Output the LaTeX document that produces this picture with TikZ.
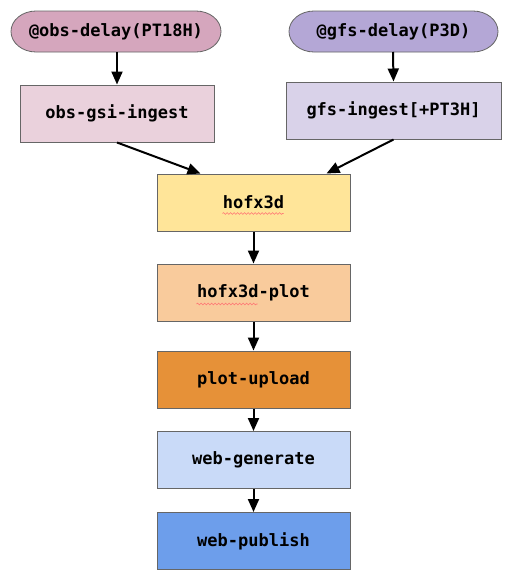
\documentclass[tikz,border=0pt]{standalone}
\usepackage{fontspec}
\setmonofont{DejaVu Sans Mono}
\usetikzlibrary{arrows.meta,decorations.pathmorphing,calc}
\definecolor{cObsDelay}{HTML}{D5A6BD}
\definecolor{cGfsDelay}{HTML}{B4A7D6}
\definecolor{cObsIng}{HTML}{EAD1DC}
\definecolor{cGfsIng}{HTML}{D9D2E9}
\definecolor{cHofx}{HTML}{FFE599}
\definecolor{cPlot}{HTML}{F9CB9C}
\definecolor{cUpload}{HTML}{E69138}
\definecolor{cWebGen}{HTML}{C9DAF8}
\definecolor{cWebPub}{HTML}{6D9EEB}
\definecolor{cBorder}{HTML}{666666}
\tikzset{
  txt/.style={font=\ttfamily\bfseries\fontsize{17}{20}\selectfont, text=black, inner sep=0pt},
  taskbox/.style={draw=cBorder, line width=1pt, minimum width=193pt, minimum height=57pt, inner sep=0pt, txt},
  flow/.style={-{Triangle[length=13pt,width=11pt]}, line width=2pt, black},
  spell/.style={draw=red!55, line width=0.6pt, decorate, decoration={snake, amplitude=0.9pt, segment length=3.5pt}},
}
\begin{document}
\begin{tikzpicture}[x=1pt,y=-1pt]
\useasboundingbox[fill=white] (0,0) rectangle (518,584);
% delay stadiums
\path[fill=cObsDelay, draw=cBorder, line width=0.8pt]
  (36,11) -- (196,11) arc[start angle=90,end angle=-90,x radius=25,y radius=-20.5]
  -- (36,52) arc[start angle=270,end angle=90,x radius=25,y radius=-20.5] -- cycle;
\node[txt] (obsdelay) at (116,32) {@obs-delay(PT18H)};
\path[fill=cGfsDelay, draw=cBorder, line width=0.8pt]
  (314,11) -- (473,11) arc[start angle=90,end angle=-90,x radius=25,y radius=-20.5]
  -- (314,52) arc[start angle=270,end angle=90,x radius=25,y radius=-20.5] -- cycle;
\node[txt] (gfsdelay) at (393.5,32) {@gfs-delay(P3D)};
\coordinate (obsdelayb) at (117,52);
\coordinate (gfsdelayb) at (393,52);
% boxes
\node[taskbox, fill=cObsIng, minimum width=194pt] (obsing) at (117,113.5) {obs-gsi-ingest};
\node[taskbox, fill=cGfsIng, minimum width=215pt, minimum height=57pt] (gfsing) at (393.5,110.5) {gfs-ingest[+PT3H]};
\node[taskbox, fill=cHofx] (hofx) at (253.5,202.5) {hofx3d};
\node[taskbox, fill=cPlot] (plot) at (253.5,292.5) {hofx3d-plot};
\node[taskbox, fill=cUpload] (upload) at (253.5,379.5) {plot-upload};
\node[taskbox, fill=cWebGen] (webgen) at (253.5,460) {web-generate};
\node[taskbox, fill=cWebPub] (webpub) at (253.5,541) {web-publish};
% spell-check squiggles
\draw[spell] ($(hofx.center)+(-31,11)$) -- ($(hofx.center)+(30,11)$);
\draw[spell] ($(plot.center)+(-57,11.5)$) -- ($(plot.center)+(4,11.5)$);
% connectors
\draw[flow] (obsdelayb) -- (obsing.north);
\draw[flow] (gfsdelayb) -- (gfsing.north);
\draw[flow] (obsing.south) -- ($(hofx.north)+(-53,0)$);
\draw[flow] (gfsing.south) -- ($(hofx.north)+(73,0)$);
\draw[flow] (hofx) -- (plot);
\draw[flow] (plot) -- (upload);
\draw[flow] (upload) -- (webgen);
\draw[flow] (webgen) -- (webpub);
\end{tikzpicture}
\end{document}
